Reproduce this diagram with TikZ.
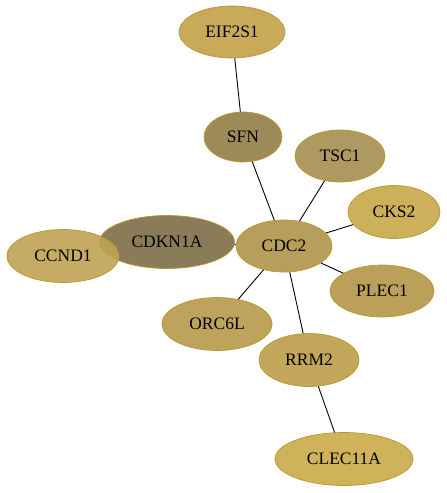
\documentclass[tikz,border=0pt]{standalone}
\usepackage{fontspec}
\setmainfont{Liberation Serif}
\usetikzlibrary{shapes.geometric}
\definecolor{bordc}{HTML}{B8982E}
\definecolor{cEIF}{HTML}{C8AA58}
\definecolor{cSFN}{HTML}{9C8A58}
\definecolor{cTSC}{HTML}{AE9A60}
\definecolor{cCKS}{HTML}{CDB05A}
\definecolor{cCDK}{HTML}{8A7C58}
\definecolor{cCCN}{HTML}{BFA254}
\definecolor{cCDC}{HTML}{B89E5C}
\definecolor{cPLE}{HTML}{BCA05A}
\definecolor{cORC}{HTML}{BEA35C}
\definecolor{cRRM}{HTML}{C2A65A}
\definecolor{cCLE}{HTML}{D0B25A}
\tikzset{
  gene/.style={ellipse, draw=bordc, line width=0.7pt,
    inner sep=0pt, font=\fontsize{17.5}{19}\selectfont},
  edge/.style={draw=black, line width=0.9pt}
}
\begin{document}
\begin{tikzpicture}[x=1pt,y=-1pt]
\useasboundingbox (0,0) rectangle (447,493);
\fill[white] (0,0) rectangle (447,493);
% nodes
\node[gene, fill=cEIF, minimum width=106pt, minimum height=52pt] (eif) at (232,32) {EIF2S1};
\node[gene, fill=cSFN, minimum width=78pt, minimum height=50pt] (sfn) at (243,137) {SFN};
\node[gene, fill=cTSC, minimum width=90pt, minimum height=52pt] (tsc) at (340,156) {TSC1};
\node[gene, fill=cCKS, minimum width=92pt, minimum height=53pt] (cks) at (394,212) {CKS2};
\node[gene, fill=cCDK, minimum width=135pt, minimum height=53pt] (cdk) at (167,242) {CDKN1A};
\node[gene, fill=cCCN, minimum width=112pt, minimum height=53pt, fill opacity=0.9, text opacity=1] (ccn) at (63,256) {CCND1};
\node[gene, fill=cCDC, minimum width=96pt, minimum height=52pt] (cdc) at (284,246) {CDC2};
\node[gene, fill=cPLE, minimum width=104pt, minimum height=52pt] (ple) at (382,291) {PLEC1};
\node[gene, fill=cORC, minimum width=110pt, minimum height=53pt] (orc) at (217,324) {ORC6L};
\node[gene, fill=cRRM, minimum width=100pt, minimum height=53pt] (rrm) at (309,360) {RRM2};
\node[gene, fill=cCLE, minimum width=138pt, minimum height=53pt] (cle) at (344,459) {CLEC11A};
% edges
\draw[edge] (eif) -- (sfn);
\draw[edge] (sfn) -- (cdc);
\draw[edge] (tsc) -- (cdc);
\draw[edge] (cks) -- (cdc);
\draw[edge] (cdk) -- (cdc);
\draw[edge] (ple) -- (cdc);
\draw[edge] (orc) -- (cdc);
\draw[edge] (rrm) -- (cdc);
\draw[edge] (rrm) -- (cle);
\end{tikzpicture}
\end{document}
